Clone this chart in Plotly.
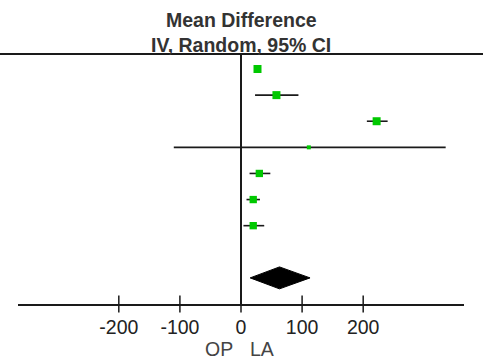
import plotly.graph_objects as go

# Study-level data (mean difference, 95% CI)
study_rows = [1, 2, 3, 4, 5, 6, 7]
mean_diff = [27, 58, 222, 111, 30, 20, 20]
ci_low = [22, 23, 206, -110, 14, 9, 4]
ci_high = [32, 94, 240, 335, 48, 31, 38]
weights = [15, 15, 15, 3, 13, 13, 13]

# Pooled estimate
pooled_row = 9
pooled_mean = 63
pooled_low = 15
pooled_high = 113

tick_vals = [-200, -100, 0, 100, 200]
tick_text = ["-200", "-100", "0", "100", "200"]

sizes = [3 + w / 3 for w in weights]

ci_x, ci_y = [], []
for lo, hi, r in zip(ci_low, ci_high, study_rows):
    ci_x += [lo, hi, None]
    ci_y += [r, r, None]

fig = go.Figure()

# pooled diamond
half_h = 0.42
fig.add_trace(go.Scatter(
    x=[pooled_low, pooled_mean, pooled_high, pooled_mean, pooled_low],
    y=[pooled_row, pooled_row - half_h, pooled_row, pooled_row + half_h, pooled_row],
    mode="lines", fill="toself", fillcolor="black",
    line=dict(color="black", width=1), hoverinfo="skip", showlegend=False,
))

# confidence interval lines (under the squares)
fig.add_trace(go.Scatter(
    x=ci_x, y=ci_y, mode="lines",
    line=dict(color="#1a1a1a", width=1.6),
    hoverinfo="skip", showlegend=False,
))

# tick marks crossing the axis
fig.add_trace(go.Scatter(
    x=tick_vals, y=[10.0] * len(tick_vals), mode="markers",
    marker=dict(symbol="line-ns", size=12, opacity=1,
                line=dict(color="#1a1a1a", width=1.5)),
    cliponaxis=False, hoverinfo="skip", showlegend=False,
))

# study squares (opaque, above the CI lines)
fig.add_trace(go.Scatter(
    x=mean_diff, y=study_rows, mode="markers",
    marker=dict(symbol="square", size=sizes, color="#00c800", opacity=1,
                line=dict(width=0)),
    showlegend=False,
))

W, H = 487, 359
L, R, T, B = 18, 23, 54, 55
pw, ph = W - L - R, H - T - B

fig.update_layout(
    width=W, height=H,
    margin=dict(l=L, r=R, t=T, b=B),
    paper_bgcolor="white", plot_bgcolor="white",
    font=dict(family="Liberation Sans, Arial, sans-serif", color="#222"),
    xaxis=dict(range=[-365, 365], tickvals=tick_vals, ticktext=tick_text,
               ticks="", showgrid=False, zeroline=True, zerolinecolor="#1a1a1a",
               zerolinewidth=1.5, showline=True, linecolor="#1a1a1a", linewidth=2,
               tickfont=dict(size=19.5, color="#222"), ticklabelstandoff=5),
    yaxis=dict(range=[10.0, 0.425], showticklabels=False, showgrid=False,
               zeroline=False, showline=False, ticks=""),
    shapes=[dict(type="line", xref="paper", yref="paper",
                 x0=-L / pw, x1=(483 - L) / pw, y0=1, y1=1,
                 line=dict(color="#1a1a1a", width=2))],
    annotations=[
        dict(text="<b>Mean Difference</b>", xref="paper", yref="paper",
             x=(241 - L) / pw, y=(H - B - 20) / ph, xanchor="center", yanchor="middle",
             showarrow=False, font=dict(size=19.5, color="#333")),
        dict(text="<b>IV, Random, 95% CI</b>", xref="paper", yref="paper",
             x=(241 - L) / pw, y=(H - B - 45) / ph, xanchor="center", yanchor="middle",
             showarrow=False, font=dict(size=19.5, color="#333")),
        dict(text="OP", xref="x", yref="paper", x=-36, y=(H - B - 349) / ph,
             xanchor="center", yanchor="middle", showarrow=False,
             font=dict(size=19.5, color="#444")),
        dict(text="LA", xref="x", yref="paper", x=34, y=(H - B - 349) / ph,
             xanchor="center", yanchor="middle", showarrow=False,
             font=dict(size=19.5, color="#444")),
    ],
)

fig.write_html("out.html")
